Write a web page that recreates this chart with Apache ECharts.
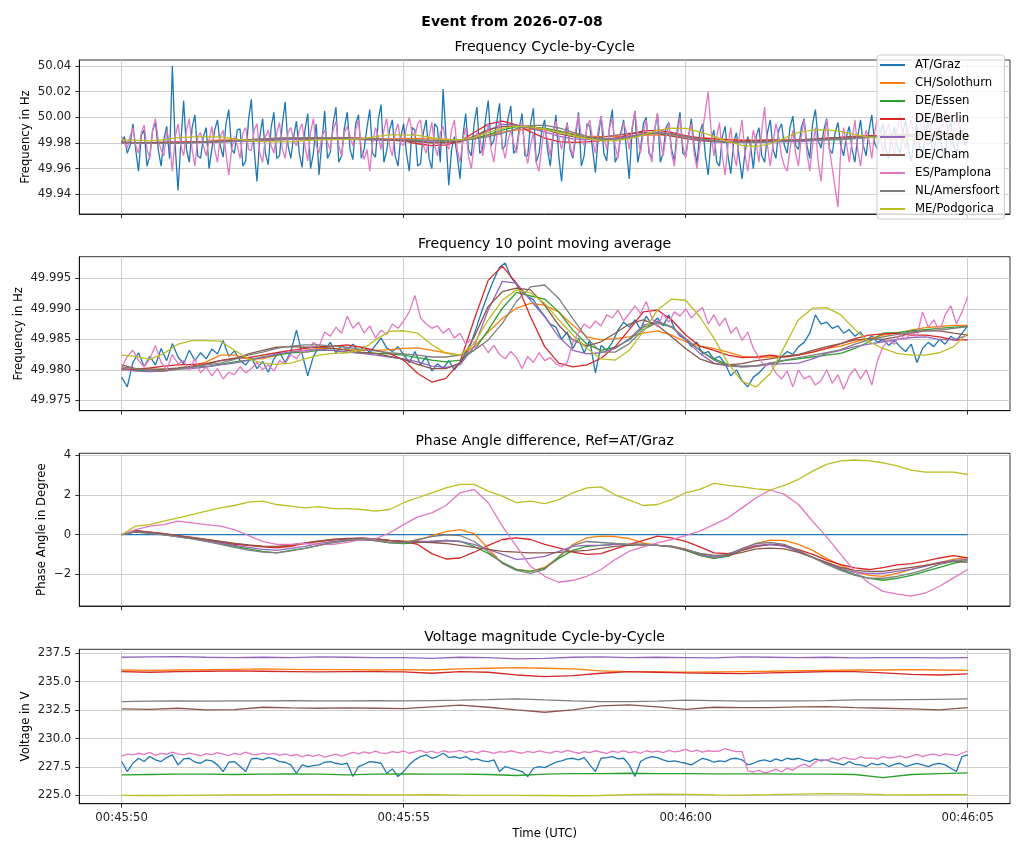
<!DOCTYPE html>
<html>
<head>
<meta charset="utf-8">
<title>Event from 2026-07-08</title>
<script src="https://cdn.jsdelivr.net/npm/echarts@6/dist/echarts.min.js"></script>
<style>
  html, body { margin: 0; padding: 0; background: #fff; }
  #chart { width: 1024px; height: 853px; }
</style>
</head>
<body>
<div id="chart"></div>
<script>
// stations, in plotting order
var stations = ['AT/Graz', 'CH/Solothurn', 'DE/Essen', 'DE/Berlin', 'DE/Stade', 'DE/Cham', 'ES/Pamplona', 'NL/Amersfoort', 'ME/Podgorica'];
var colors = ['#1f77b4', '#ff7f0e', '#2ca02c', '#d62728', '#9467bd', '#8c564b', '#e377c2', '#7f7f7f', '#bcbd22'];

// x axis ticks (seconds after 00:45:50)
var tickSeconds = [0, 5, 10, 15];
var tickLabels = ['00:45:50', '00:45:55', '00:46:00', '00:46:05'];

// y axis ticks
var freqTicks = [49.94, 49.96, 49.98, 50.00, 50.02, 50.04];
var avgTicks = [49.975, 49.980, 49.985, 49.990, 49.995];
var phaseTicks = [-2, 0, 2, 4];
var voltTicks = [225, 227.5, 230, 232.5, 235, 237.5];

// sample times: 0.1 s (plus the 0.05 s offsets in between), 0.25 s and 0.5 s steps
var tFine = [], tFineMid = [], tQuarter = [], tHalf = [];
for (var i = 0; i <= 150; i++) tFine.push(i / 10);
for (var i = 0; i < 150; i++) tFineMid.push((2 * i + 1) / 20);
for (var i = 0; i <= 60; i++) tQuarter.push(i / 4);
for (var i = 0; i <= 30; i++) tHalf.push(i / 2);
var tEnds = [0, 15];

// ---- frequency cycle-by-cycle (noisy stations) ----
// values at the 0.1 s instants
var grazCyc = [
  49.981,49.972,49.995,49.958,49.990,49.970,49.996,49.962,49.993,50.040,
  49.943,50.013,49.965,50.002,49.968,49.992,49.975,49.998,49.969,50.006,
  49.972,49.991,49.966,50.014,49.950,49.999,49.963,50.004,49.970,50.012,
  49.968,49.997,49.961,50.003,49.972,49.955,50.005,49.973,50.008,49.970,
  50.004,49.967,50.002,49.975,50.006,49.969,50.010,49.974,49.998,49.962,
  49.995,49.958,49.990,49.964,49.998,49.960,49.992,50.022,49.947,49.985,
  49.952,50.003,49.970,50.008,49.975,50.013,49.982,50.011,49.978,50.009,
  49.975,50.003,49.970,50.007,49.972,49.998,49.962,50.002,49.950,49.996,
  49.968,50.004,49.970,49.993,49.957,50.001,49.966,50.006,49.970,49.998,
  49.952,50.005,49.975,50.000,49.968,50.003,49.972,49.996,49.966,50.004,
  49.970,49.999,49.964,49.995,49.955,49.990,49.962,49.993,49.956,49.988,
  49.952,49.985,49.960,49.992,49.965,49.998,49.968,49.995,49.972,50.001,
  49.975,49.999,49.968,50.006,49.976,49.999,49.972,49.996,49.970,49.993,
  49.965,49.998,49.970,50.002,49.975,49.995,49.968,49.992,49.972,49.998,
  49.966,49.994,49.970,49.997,49.974,49.992,49.968,49.996,49.972,49.990,
  49.983];
// values at the in-between instants (0.05, 0.15, ...)
var grazCycMid = [
  49.985,49.978,49.975,49.986,49.962,49.990,49.975,49.983,49.968,49.978,
  49.980,49.975,49.992,49.970,49.985,49.960,49.990,49.978,49.995,49.975,
  49.990,49.962,49.998,49.975,49.985,49.972,49.992,49.968,49.995,49.978,
  49.985,49.972,49.990,49.960,49.995,49.980,49.968,49.995,49.965,49.992,
  49.975,49.995,49.968,49.992,49.972,49.998,49.965,49.990,49.970,49.985,
  49.972,49.992,49.962,49.988,49.968,49.995,49.965,49.985,49.975,49.970,
  49.985,49.975,49.995,49.972,49.998,49.978,49.996,49.975,49.999,49.972,
  49.992,49.970,49.995,49.965,49.990,49.975,49.985,49.970,49.978,49.975,
  49.985,49.962,49.995,49.975,49.985,49.972,49.993,49.965,49.988,49.975,
  49.990,49.965,49.995,49.972,49.990,49.965,49.992,49.975,49.990,49.972,
  49.985,49.978,49.988,49.970,49.982,49.965,49.985,49.970,49.980,49.968,
  49.972,49.978,49.985,49.970,49.988,49.975,49.990,49.978,49.992,49.978,
  49.992,49.978,49.995,49.982,49.990,49.975,49.988,49.978,49.985,49.975,
  49.985,49.978,49.990,49.980,49.988,49.975,49.985,49.978,49.988,49.975,
  49.982,49.975,49.988,49.980,49.985,49.975,49.990,49.978,49.985,49.978];
var pampCyc = [
  49.985,49.976,49.992,49.972,49.994,49.968,49.999,49.975,49.990,49.958,
  49.995,49.970,49.999,49.962,49.988,49.970,49.993,49.965,49.990,49.955,
  49.985,49.968,49.992,49.974,49.995,49.965,49.990,49.972,49.996,49.968,
  49.992,49.978,49.995,49.966,49.999,49.972,49.990,49.975,49.997,49.970,
  49.993,49.978,49.998,49.967,49.958,49.992,49.975,49.999,49.970,49.995,
  49.978,50.000,49.985,49.998,49.972,49.996,49.970,49.993,49.975,49.998,
  49.965,49.992,49.960,49.988,49.970,49.995,49.965,49.998,49.968,49.990,
  49.972,49.996,49.964,49.988,49.958,49.992,49.970,49.997,49.975,49.995,
  49.970,50.002,49.978,49.998,49.972,50.001,49.975,49.999,49.968,49.996,
  49.975,50.005,49.972,49.998,49.965,50.003,49.970,49.995,49.962,50.000,
  49.968,49.995,49.960,49.990,50.020,49.970,49.996,49.955,49.992,49.962,
  49.998,49.958,49.990,49.965,50.008,49.962,49.995,49.970,49.958,49.990,
  49.962,49.998,49.958,49.992,49.950,49.998,49.960,49.930,49.992,49.965,
  49.998,49.962,49.990,49.968,50.000,49.972,49.995,49.970,50.002,49.975,
  49.998,49.972,50.004,49.978,50.000,49.980,50.005,49.978,50.002,49.985,
  49.998];
var pampCycMid = [
  49.980,49.985,49.978,49.988,49.975,49.990,49.982,49.970,49.980,49.985,
  49.978,49.990,49.975,49.985,49.978,49.982,49.975,49.985,49.972,49.975,
  49.978,49.988,49.975,49.990,49.972,49.985,49.978,49.988,49.975,49.988,
  49.982,49.990,49.978,49.988,49.978,49.985,49.980,49.990,49.978,49.988,
  49.985,49.990,49.975,49.975,49.980,49.985,49.990,49.978,49.988,49.980,
  49.992,49.988,49.995,49.978,49.985,49.978,49.988,49.980,49.990,49.975,
  49.982,49.970,49.978,49.985,49.982,49.975,49.985,49.978,49.982,49.980,
  49.988,49.975,49.978,49.965,49.978,49.982,49.988,49.985,49.988,49.978,
  49.990,49.985,49.992,49.982,49.990,49.985,49.992,49.978,49.985,49.988,
  49.992,49.985,49.988,49.975,49.990,49.982,49.985,49.972,49.985,49.978,
  49.985,49.972,49.978,50.005,49.990,49.985,49.970,49.978,49.972,49.985,
  49.972,49.975,49.980,49.990,49.978,49.980,49.985,49.962,49.975,49.972,
  49.985,49.972,49.978,49.965,49.980,49.975,49.945,49.975,49.980,49.982,
  49.975,49.980,49.982,49.988,49.985,49.988,49.982,49.990,49.985,49.992,
  49.985,49.990,49.988,49.992,49.990,49.995,49.990,49.992,49.995,49.992];

// ---- frequency 10 point moving average ----
var grazAvg = [
  49.9788,49.9772,49.9812,49.9828,49.9805,49.9822,49.9808,49.9835,49.9815,49.9843,
  49.9821,49.9810,49.9832,49.9815,49.9828,49.9818,49.9834,49.9826,49.9848,49.9822,
  49.9831,49.9815,49.9808,49.9820,49.9802,49.9814,49.9796,49.9818,49.9829,49.9812,
  49.9830,49.9865,49.9826,49.9790,49.9822,49.9838,49.9832,49.9845,49.9828,49.9840,
  49.9833,49.9842,49.9830,49.9838,49.9828,49.9840,49.9852,49.9836,49.9830,49.9838,
  49.9825,49.9812,49.9830,49.9808,49.9822,49.9798,49.9810,49.9802,49.9815,49.9800,
  49.9812,49.9822,49.9845,49.9872,49.9900,49.9925,49.9948,49.9968,49.9975,49.9952,
  49.9940,49.9928,49.9920,49.9915,49.9900,49.9888,49.9875,49.9870,49.9850,49.9862,
  49.9835,49.9852,49.9828,49.9848,49.9795,49.9840,49.9832,49.9845,49.9865,49.9878,
  49.9870,49.9882,49.9866,49.9888,49.9875,49.9885,49.9872,49.9890,49.9868,49.9855,
  49.9850,49.9838,49.9845,49.9826,49.9830,49.9818,49.9822,49.9810,49.9790,49.9800,
  49.9782,49.9772,49.9788,49.9795,49.9805,49.9812,49.9808,49.9822,49.9830,49.9825,
  49.9838,49.9845,49.9860,49.9890,49.9875,49.9878,49.9868,49.9872,49.9860,49.9866,
  49.9855,49.9862,49.9848,49.9856,49.9845,49.9850,49.9840,49.9848,49.9838,49.9830,
  49.9842,49.9812,49.9835,49.9845,49.9838,49.9850,49.9842,49.9855,49.9848,49.9860,
  49.9872];
var pampAvg = [
  49.9803,49.9822,49.9832,49.9815,49.9805,49.9818,49.9840,49.9812,49.9800,49.9825,
  49.9810,49.9815,49.9800,49.9818,49.9795,49.9805,49.9790,49.9802,49.9785,49.9796,
  49.9792,49.9805,49.9795,49.9802,49.9812,49.9800,49.9808,49.9798,49.9815,49.9810,
  49.9825,49.9818,49.9832,49.9828,49.9845,49.9838,49.9862,49.9855,49.9870,49.9860,
  49.9888,49.9868,49.9878,49.9860,49.9872,49.9852,49.9865,49.9858,49.9875,49.9868,
  49.9880,49.9895,49.9922,49.9885,49.9875,49.9868,49.9872,49.9860,49.9868,49.9852,
  49.9860,49.9842,49.9850,49.9835,49.9842,49.9828,49.9840,49.9825,49.9818,49.9830,
  49.9820,49.9802,49.9822,49.9812,49.9828,49.9815,49.9820,49.9810,49.9805,49.9812,
  49.9845,49.9860,49.9875,49.9868,49.9880,49.9872,49.9890,49.9885,49.9898,49.9880,
  49.9892,49.9905,49.9892,49.9912,49.9885,49.9870,49.9892,49.9878,49.9895,49.9888,
  49.9900,49.9885,49.9895,49.9902,49.9875,49.9890,49.9872,49.9885,49.9860,49.9870,
  49.9848,49.9862,49.9835,49.9820,49.9805,49.9812,49.9795,49.9785,49.9798,49.9772,
  49.9800,49.9785,49.9790,49.9775,49.9782,49.9800,49.9778,49.9792,49.9768,49.9790,
  49.9802,49.9785,49.9800,49.9775,49.9815,49.9838,49.9848,49.9842,49.9858,49.9850,
  49.9862,49.9855,49.9895,49.9870,49.9882,49.9862,49.9890,49.9905,49.9875,49.9895,
  49.9920];
// 0.25 s steps
var chAvg = [
  49.9802,49.9801,49.9798,49.9799,49.9802,49.9806,49.9813,49.9824,49.9824,49.9818,
  49.9818,49.9824,49.9829,49.9832,49.9835,49.9835,49.9833,49.9832,49.9832,49.9833,
  49.9835,49.9836,49.9832,49.9828,49.9824,49.9838,49.9862,49.9884,49.9901,49.9909,
  49.9906,49.9895,49.9873,49.9854,49.9849,49.9851,49.9854,49.9860,49.9864,49.9857,
  49.9846,49.9839,49.9835,49.9829,49.9822,49.9820,49.9821,49.9822,49.9825,49.9829,
  49.9835,49.9839,49.9846,49.9851,49.9857,49.9860,49.9865,49.9869,49.9871,49.9873,
  49.9873];
var essenAvg = [
  49.9802,49.9799,49.9799,49.9801,49.9802,49.9805,49.9805,49.9809,49.9813,49.9816,
  49.9821,49.9824,49.9828,49.9829,49.9832,49.9832,49.9829,49.9828,49.9827,49.9826,
  49.9824,49.9820,49.9816,49.9813,49.9816,49.9832,49.9865,49.9901,49.9927,49.9921,
  49.9916,49.9895,49.9865,49.9842,49.9832,49.9837,49.9849,49.9870,49.9877,49.9870,
  49.9851,49.9832,49.9818,49.9809,49.9805,49.9806,49.9810,49.9815,49.9818,49.9821,
  49.9824,49.9827,49.9835,49.9846,49.9860,49.9861,49.9864,49.9866,49.9868,49.9870,
  49.9871];
var berlinAvg = [
  49.9800,49.9801,49.9803,49.9806,49.9808,49.9809,49.9810,49.9815,49.9819,49.9820,
  49.9824,49.9828,49.9832,49.9835,49.9838,49.9839,49.9841,49.9837,49.9832,49.9827,
  49.9816,49.9794,49.9780,49.9786,49.9813,49.9882,49.9947,49.9970,49.9942,49.9887,
  49.9838,49.9811,49.9805,49.9808,49.9819,49.9838,49.9866,49.9895,49.9898,49.9882,
  49.9857,49.9839,49.9832,49.9824,49.9820,49.9821,49.9824,49.9821,49.9824,49.9829,
  49.9835,49.9843,49.9851,49.9857,49.9859,49.9860,49.9857,49.9857,49.9854,49.9849,
  49.9849];
var stadeAvg = [
  49.9802,49.9798,49.9797,49.9798,49.9801,49.9802,49.9805,49.9808,49.9811,49.9816,
  49.9820,49.9826,49.9829,49.9832,49.9833,49.9832,49.9829,49.9827,49.9824,49.9821,
  49.9818,49.9813,49.9806,49.9804,49.9808,49.9838,49.9898,49.9945,49.9942,49.9914,
  49.9887,49.9854,49.9832,49.9826,49.9828,49.9835,49.9851,49.9873,49.9880,49.9870,
  49.9849,49.9827,49.9811,49.9806,49.9805,49.9806,49.9809,49.9810,49.9811,49.9818,
  49.9827,49.9832,49.9838,49.9842,49.9846,49.9850,49.9853,49.9854,49.9850,49.9849,
  49.9857];
var chamAvg = [
  49.9808,49.9802,49.9801,49.9801,49.9803,49.9806,49.9809,49.9815,49.9818,49.9826,
  49.9832,49.9837,49.9838,49.9837,49.9837,49.9835,49.9832,49.9829,49.9827,49.9822,
  49.9817,49.9809,49.9802,49.9802,49.9811,49.9854,49.9904,49.9928,49.9934,49.9931,
  49.9906,49.9873,49.9849,49.9839,49.9846,49.9860,49.9875,49.9882,49.9873,49.9854,
  49.9835,49.9818,49.9810,49.9808,49.9810,49.9815,49.9818,49.9822,49.9825,49.9832,
  49.9838,49.9843,49.9849,49.9851,49.9850,49.9854,49.9860,49.9864,49.9864,49.9860,
  49.9857];
var amersAvg = [
  49.9805,49.9802,49.9799,49.9798,49.9801,49.9804,49.9808,49.9811,49.9817,49.9824,
  49.9829,49.9835,49.9839,49.9841,49.9841,49.9839,49.9837,49.9833,49.9831,49.9828,
  49.9826,49.9824,49.9821,49.9821,49.9824,49.9832,49.9849,49.9876,49.9912,49.9936,
  49.9939,49.9917,49.9884,49.9852,49.9829,49.9829,49.9843,49.9866,49.9878,49.9871,
  49.9851,49.9832,49.9816,49.9807,49.9806,49.9807,49.9811,49.9816,49.9820,49.9824,
  49.9828,49.9833,49.9842,49.9849,49.9854,49.9858,49.9862,49.9864,49.9865,49.9868,
  49.9871];
var meAvg = [
  49.9824,49.9822,49.9817,49.9827,49.9842,49.9848,49.9848,49.9847,49.9832,49.9818,
  49.9811,49.9809,49.9811,49.9818,49.9824,49.9827,49.9828,49.9832,49.9849,49.9863,
  49.9864,49.9860,49.9841,49.9827,49.9824,49.9843,49.9882,49.9914,49.9931,49.9926,
  49.9909,49.9882,49.9857,49.9835,49.9818,49.9816,49.9832,49.9863,49.9898,49.9916,
  49.9914,49.9887,49.9852,49.9811,49.9781,49.9772,49.9794,49.9838,49.9882,49.9901,
  49.9902,49.9890,49.9866,49.9846,49.9835,49.9827,49.9824,49.9824,49.9828,49.9838,
  49.9860];

// ---- phase angle difference to AT/Graz, degrees (0.25 s) ----
var grazPhase = [0, 0];
var chPhase = [
  0,0.18,0.1,0,-0.08,-0.15,-0.25,-0.35,-0.45,-0.55,
  -0.6,-0.62,-0.55,-0.45,-0.35,-0.28,-0.22,-0.2,-0.22,-0.3,
  -0.35,-0.3,-0.05,0.15,0.25,0.05,-0.7,-1.45,-1.75,-1.85,
  -1.65,-1.15,-0.5,-0.17,-0.08,-0.1,-0.2,-0.42,-0.55,-0.58,
  -0.72,-1.05,-1.18,-1.05,-0.75,-0.45,-0.28,-0.3,-0.5,-0.8,
  -1.2,-1.55,-1.85,-2.05,-2.1,-1.95,-1.75,-1.55,-1.4,-1.25,
  -1.15];
var essenPhase = [
  0,0.15,0.08,0,-0.1,-0.2,-0.3,-0.45,-0.6,-0.72,
  -0.85,-0.92,-0.8,-0.7,-0.55,-0.4,-0.3,-0.25,-0.3,-0.42,
  -0.45,-0.4,-0.35,-0.3,-0.35,-0.6,-0.95,-1.4,-1.75,-1.85,
  -1.7,-1.2,-0.8,-0.6,-0.55,-0.5,-0.5,-0.48,-0.55,-0.6,
  -0.8,-1.05,-1.2,-1.1,-0.8,-0.6,-0.5,-0.55,-0.85,-1.15,
  -1.45,-1.75,-2.0,-2.2,-2.3,-2.2,-2.05,-1.85,-1.65,-1.45,
  -1.3];
var berlinPhase = [
  0,0.2,0.12,0.05,-0.05,-0.17,-0.29,-0.39,-0.5,-0.55,
  -0.62,-0.67,-0.59,-0.45,-0.34,-0.25,-0.22,-0.18,-0.22,-0.29,
  -0.35,-0.5,-0.96,-1.23,-1.18,-0.89,-0.55,-0.25,-0.17,-0.25,
  -0.5,-0.67,-0.89,-1.0,-0.96,-0.72,-0.5,-0.29,-0.08,-0.17,
  -0.34,-0.62,-0.92,-0.96,-0.79,-0.59,-0.5,-0.55,-0.76,-1.0,
  -1.29,-1.51,-1.68,-1.76,-1.66,-1.53,-1.46,-1.34,-1.18,-1.06,
  -1.18];
var stadePhase = [
  0,0.15,0.08,0,-0.1,-0.2,-0.3,-0.42,-0.55,-0.65,
  -0.75,-0.8,-0.7,-0.6,-0.45,-0.35,-0.28,-0.25,-0.3,-0.38,
  -0.4,-0.35,-0.35,-0.3,-0.35,-0.5,-0.75,-1.0,-1.25,-1.2,
  -1.1,-0.85,-0.6,-0.55,-0.55,-0.5,-0.5,-0.5,-0.55,-0.6,
  -0.75,-1.0,-1.15,-1.05,-0.75,-0.55,-0.5,-0.6,-0.85,-1.15,
  -1.45,-1.7,-1.9,-1.95,-1.95,-1.85,-1.75,-1.6,-1.4,-1.3,
  -1.25];
var chamPhase = [
  0,0.18,0.12,0.05,-0.05,-0.15,-0.25,-0.35,-0.45,-0.52,
  -0.58,-0.6,-0.52,-0.42,-0.32,-0.25,-0.2,-0.18,-0.22,-0.3,
  -0.35,-0.38,-0.4,-0.45,-0.55,-0.65,-0.75,-0.85,-0.88,-0.92,
  -0.92,-0.9,-0.85,-0.8,-0.7,-0.6,-0.55,-0.52,-0.55,-0.62,
  -0.78,-0.95,-1.05,-1.05,-0.9,-0.72,-0.68,-0.72,-0.9,-1.15,
  -1.4,-1.65,-1.8,-1.85,-1.85,-1.75,-1.65,-1.55,-1.45,-1.35,
  -1.4];
var pampPhase = [
  0,0.25,0.42,0.5,0.67,0.59,0.5,0.42,0.25,-0.05,
  -0.34,-0.5,-0.5,-0.45,-0.5,-0.5,-0.39,-0.25,-0.22,0.08,
  0.5,0.89,1.09,1.46,2.1,2.27,1.6,0.42,-0.59,-1.6,
  -2.1,-2.4,-2.3,-2.1,-1.76,-1.26,-0.84,-0.62,-0.42,-0.25,
  -0.05,0.17,0.5,0.84,1.34,1.85,2.24,2.02,1.51,0.67,
  -0.12,-1.0,-1.85,-2.44,-2.86,-3.0,-3.1,-2.94,-2.6,-2.18,
  -1.76];
var amersPhase = [
  0,0.12,0.05,-0.02,-0.12,-0.22,-0.35,-0.5,-0.65,-0.78,
  -0.88,-0.92,-0.82,-0.7,-0.55,-0.4,-0.3,-0.22,-0.3,-0.4,
  -0.42,-0.25,-0.1,-0.02,-0.05,-0.35,-0.85,-1.45,-1.8,-1.95,
  -1.75,-1.1,-0.55,-0.35,-0.4,-0.45,-0.5,-0.5,-0.55,-0.62,
  -0.75,-0.95,-1.08,-1.0,-0.7,-0.45,-0.4,-0.5,-0.8,-1.15,
  -1.5,-1.8,-2.05,-2.2,-2.2,-2.1,-1.95,-1.75,-1.5,-1.35,
  -1.25];
var mePhase = [
  0,0.42,0.5,0.67,0.84,1.0,1.18,1.34,1.46,1.63,
  1.68,1.51,1.43,1.34,1.4,1.3,1.3,1.26,1.18,1.26,
  1.6,1.85,2.1,2.35,2.52,2.52,2.18,1.93,1.6,1.68,
  1.56,1.76,2.1,2.35,2.4,2.0,1.73,1.46,1.51,1.76,
  2.1,2.27,2.57,2.47,2.4,2.3,2.24,2.47,2.77,3.19,
  3.53,3.7,3.75,3.7,3.61,3.45,3.24,3.14,3.14,3.14,
  3.02];

// ---- voltage magnitude, V ----
var grazVolt = [
  227.97,227.09,227.82,228.26,227.97,228.41,228.12,227.97,228.32,228.56,
  227.68,228.2,228.26,227.91,227.82,228.12,228.03,227.68,227.09,227.91,
  227.97,227.53,227.09,228.2,228.26,228.12,228.32,228.2,227.97,227.91,
  227.68,226.94,227.68,227.53,227.62,227.68,227.91,227.97,227.82,227.73,
  227.82,226.65,227.53,227.73,227.97,227.91,227.82,226.94,227.32,226.65,
  227.09,227.68,228.12,228.41,228.56,228.26,228.41,228.7,228.32,228.41,
  228.26,228.41,228.12,228.2,228.03,227.97,228.12,227.09,227.53,227.38,
  227.24,227.09,226.65,227.38,227.53,227.44,227.68,227.91,228.03,228.2,
  228.26,228.12,228.32,227.68,227.09,228.26,228.32,228.41,228.2,228.26,
  227.68,226.65,227.97,228.26,228.41,228.32,228.12,227.97,228.03,227.91,
  227.82,227.68,227.97,228.26,228.12,227.91,228.03,227.97,228.2,228.26,
  228.12,227.68,227.82,228.03,228.12,227.97,228.2,228.03,228.26,228.15,
  228.26,228.09,227.97,228.2,228.03,228.12,227.91,227.82,227.68,227.97,
  227.73,227.68,227.53,227.82,227.68,227.82,227.53,227.73,227.82,227.53,
  227.68,227.82,227.68,227.53,227.73,227.82,227.68,227.38,227.09,228.41,
  228.56];
var pampVolt = [
  228.45,228.62,228.55,228.7,228.6,228.78,228.52,228.68,228.6,228.8,
  228.65,228.55,228.72,228.6,228.48,228.66,228.58,228.75,228.62,228.5,
  228.7,228.58,228.8,228.62,228.55,228.72,228.6,228.68,228.52,228.64,
  228.48,228.6,228.38,228.55,228.42,228.58,228.35,228.5,228.62,228.45,
  228.6,228.78,228.65,228.82,228.7,228.88,228.72,228.68,228.85,228.75,
  228.9,228.7,228.82,228.95,228.75,228.88,228.7,228.92,228.8,228.85,
  228.95,228.78,228.88,228.72,228.9,228.82,228.68,228.85,228.78,228.92,
  228.8,228.7,228.86,228.75,228.9,228.8,228.72,228.88,228.78,228.95,
  228.82,228.7,228.85,228.76,228.92,228.8,228.68,228.88,228.78,228.9,
  228.75,228.85,228.7,228.92,228.8,228.88,228.76,228.95,228.82,228.9,
  229.05,228.85,228.98,228.8,228.92,228.86,228.9,229.1,228.95,228.85,
  228.85,227.15,227.05,227.2,226.98,227.1,227.3,227.05,227.4,227.2,
  227.55,227.75,227.5,227.95,228.15,228.05,228.3,228.1,228.35,228.2,
  228.15,228.4,228.25,228.3,228.18,228.42,228.28,228.35,228.48,228.3,
  228.45,228.6,228.4,228.55,228.62,228.48,228.65,228.58,228.5,228.7,
  228.9];
// 0.5 s steps
var chVolt = [236.03,236.0,236.03,236.06,236.09,236.12,236.09,236.06,236.06,236.03,236.06,236.03,236.12,236.18,236.24,236.18,236.12,235.95,235.89,235.86,235.83,235.86,235.89,235.92,235.97,236.0,236.03,236.03,236.06,236.03,236.0];
var essenVolt = [226.8,226.83,226.86,226.86,226.83,226.86,226.88,226.86,226.8,226.86,226.88,226.86,226.86,226.83,226.74,226.86,226.91,226.91,226.94,226.91,226.91,226.88,226.88,226.88,226.86,226.86,226.83,226.56,226.83,226.91,226.97];
var berlinVolt = [235.89,235.83,235.89,235.92,235.95,235.92,235.89,235.86,235.89,235.89,235.86,235.74,235.89,235.83,235.59,235.45,235.54,235.74,235.89,235.83,235.77,235.74,235.71,235.77,235.83,235.89,235.89,235.77,235.65,235.59,235.68];
var stadeVolt = [237.15,237.18,237.21,237.15,237.12,237.15,237.12,237.18,237.15,237.12,237.12,237.06,237.15,237.12,237.0,237.06,237.15,237.18,237.12,237.15,237.12,237.09,237.18,237.15,237.12,237.15,237.09,237.12,237.12,237.09,237.12];
var chamVolt = [232.6,232.57,232.66,232.51,232.54,232.75,232.69,232.66,232.69,232.66,232.63,232.78,232.93,232.75,232.51,232.31,232.51,232.87,232.95,232.78,232.57,232.75,232.72,232.72,232.78,232.81,232.72,232.66,232.6,232.51,232.72];
var amersVolt = [233.25,233.28,233.31,233.28,233.31,233.31,233.34,233.31,233.31,233.34,233.31,233.34,233.37,233.42,233.48,233.39,233.31,233.25,233.25,233.28,233.37,233.34,233.28,233.31,233.31,233.34,233.39,233.39,233.42,233.45,233.48];
var meVolt = [225.0,224.98,225.0,225.02,225.03,225.03,225.05,225.06,225.05,225.03,225.03,225.05,225.02,225.0,225.0,224.98,224.96,224.98,225.05,225.1,225.08,225.03,225.02,225.05,225.1,225.15,225.12,225.06,225.03,225.05,225.06];

// pairs [time, value]; merges an optional second set of samples in time order
function toPoints(ts, vs, ts2, vs2) {
  var pts = vs.map(function (v, i) { return [ts[i], v]; });
  if (ts2) {
    vs2.forEach(function (v, i) { pts.push([ts2[i], v]); });
    pts.sort(function (a, b) { return a[0] - b[0]; });
  }
  return pts;
}

// which arrays go into which panel, in station order
var panelData = [
  [toPoints(tFine, grazCyc, tFineMid, grazCycMid), toPoints(tQuarter, chAvg), toPoints(tQuarter, essenAvg),
   toPoints(tQuarter, berlinAvg), toPoints(tQuarter, stadeAvg), toPoints(tQuarter, chamAvg),
   toPoints(tFine, pampCyc, tFineMid, pampCycMid), toPoints(tQuarter, amersAvg), toPoints(tQuarter, meAvg)],
  [toPoints(tFine, grazAvg), toPoints(tQuarter, chAvg), toPoints(tQuarter, essenAvg), toPoints(tQuarter, berlinAvg),
   toPoints(tQuarter, stadeAvg), toPoints(tQuarter, chamAvg), toPoints(tFine, pampAvg), toPoints(tQuarter, amersAvg),
   toPoints(tQuarter, meAvg)],
  [toPoints(tEnds, grazPhase), toPoints(tQuarter, chPhase), toPoints(tQuarter, essenPhase), toPoints(tQuarter, berlinPhase),
   toPoints(tQuarter, stadePhase), toPoints(tQuarter, chamPhase), toPoints(tQuarter, pampPhase),
   toPoints(tQuarter, amersPhase), toPoints(tQuarter, mePhase)],
  [toPoints(tFine, grazVolt), toPoints(tHalf, chVolt), toPoints(tHalf, essenVolt), toPoints(tHalf, berlinVolt),
   toPoints(tHalf, stadeVolt), toPoints(tHalf, chamVolt), toPoints(tFine, pampVolt), toPoints(tHalf, amersVolt),
   toPoints(tHalf, meVolt)]
];

var FONT = 'DejaVu Sans';
var panels = [
  {top: 60, height: 154, min: 49.92465, max: 50.0447, ticks: freqTicks, name: 'Frequency in Hz', gap: 47,
   fmt: function (v) { return v.toFixed(2); }, title: 'Frequency Cycle-by-Cycle', titleY: 47},
  {top: 256.7, height: 154, min: 49.9733, max: 49.99854, ticks: avgTicks, name: 'Frequency in Hz', gap: 54,
   fmt: function (v) { return v.toFixed(3); }, title: 'Frequency 10 point moving average', titleY: 244},
  {top: 453.3, height: 152.7, min: -3.595, max: 4.086, ticks: phaseTicks, name: 'Phase Angle in Degree', gap: 31,
   fmt: function (v) { return v < 0 ? '\u2212' + Math.abs(v) : String(v); }, title: 'Phase Angle difference, Ref=AT/Graz', titleY: 441},
  {top: 649.3, height: 154.4, min: 224.26, max: 237.85, ticks: voltTicks, name: 'Voltage in V', gap: 47,
   fmt: function (v) { return v.toFixed(1); }, title: 'Voltage magnitude Cycle-by-Cycle', titleY: 637.5}
];

var grids = [], xAxes = [], yAxes = [], series = [];
var graphics = [{
  type: 'text', x: 512, y: 22,
  style: {text: 'Event from 2026-07-08', font: 'bold 14px "DejaVu Sans"', fill: '#000', align: 'center', verticalAlign: 'middle'}
}];

panels.forEach(function (p, k) {
  var last = k === panels.length - 1;
  grids.push({left: 79.3, width: 930.7, top: p.top, height: p.height, show: true,
    borderColor: '#000', borderWidth: 0.8, backgroundColor: '#fff', containLabel: false, outerBoundsMode: 'none'});
  xAxes.push({
    type: 'value', gridIndex: k, min: -0.75, max: 15.75,
    axisLine: {show: true, onZero: false, lineStyle: {color: '#000', width: 0.8}},
    axisTick: {show: true, length: 4, customValues: tickSeconds, lineStyle: {color: '#000', width: 0.8}},
    axisLabel: {show: last, customValues: tickSeconds, margin: 8, fontFamily: FONT, fontSize: 11.7, color: '#222',
      formatter: function (v) { return tickLabels[tickSeconds.indexOf(v)] || ''; }},
    splitLine: {show: true, lineStyle: {color: '#c8c8c8', width: 0.9}},
    name: last ? 'Time (UTC)' : '', nameLocation: 'middle', nameGap: 24, nameMoveOverlap: false,
    nameTextStyle: {fontFamily: FONT, fontSize: 11.7, color: '#000'}
  });
  yAxes.push({
    type: 'value', gridIndex: k, min: p.min, max: p.max, scale: true,
    axisLine: {show: true, onZero: false, lineStyle: {color: '#000', width: 0.8}},
    axisTick: {show: true, length: 4, customValues: p.ticks, lineStyle: {color: '#000', width: 0.8}},
    axisLabel: {customValues: p.ticks, margin: 8, fontFamily: FONT, fontSize: 11.7, color: '#222', formatter: p.fmt},
    splitLine: {show: true, lineStyle: {color: '#c8c8c8', width: 0.9}},
    name: p.name, nameLocation: 'middle', nameRotate: 90, nameGap: p.gap, nameMoveOverlap: false,
    nameTextStyle: {fontFamily: FONT, fontSize: 11.7, color: '#000'}
  });
  graphics.push({
    type: 'text', x: 544.6, y: p.titleY,
    style: {text: p.title, font: '14px "DejaVu Sans"', fill: '#000', align: 'center', verticalAlign: 'middle'}
  });
  panelData[k].forEach(function (pts, s) {
    series.push({
      type: 'line', name: stations[s], xAxisIndex: k, yAxisIndex: k,
      data: pts,
      symbol: 'none', showSymbol: false, silent: true, clip: true,
      itemStyle: {color: colors[s]},
      lineStyle: {color: colors[s], width: 1.3},
      emphasis: {disabled: true}
    });
  });
});

var chart = echarts.init(document.getElementById('chart'), null, {renderer: 'canvas'});
chart.setOption({
  animation: false,
  backgroundColor: '#fff',
  grid: grids,
  xAxis: xAxes,
  yAxis: yAxes,
  series: series,
  graphic: graphics,
  tooltip: {show: false},
  legend: {
    data: stations, orient: 'vertical', left: 877, top: 55,
    icon: 'rect', itemWidth: 25, itemHeight: 2, itemGap: 0,
    padding: [1, 5, 1, 3],
    selectedMode: false,
    backgroundColor: 'rgba(255,255,255,0.8)', borderColor: '#cccccc', borderWidth: 1, borderRadius: 3,
    textStyle: {fontFamily: FONT, fontSize: 11.7, color: '#000', lineHeight: 18, padding: [0, 0, 0, 5]}
  }
});
</script>
</body>
</html>
